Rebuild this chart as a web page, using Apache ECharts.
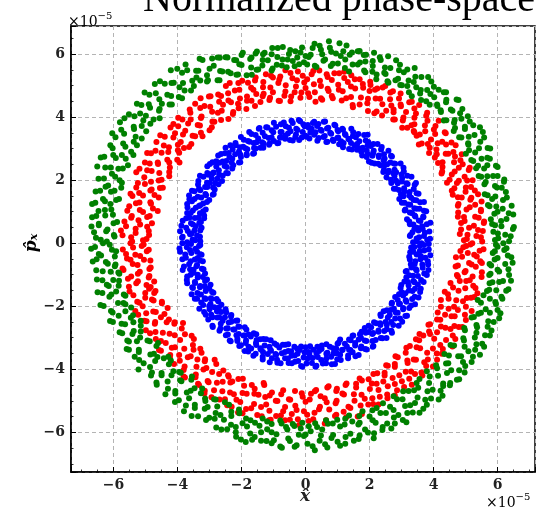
<!DOCTYPE html>
<html>
<head>
<meta charset="utf-8">
<title>Normalized phase-space</title>
<script src="https://cdn.jsdelivr.net/npm/echarts@6/dist/echarts.min.js"></script>
<style>
html, body { margin: 0; padding: 0; background: #fff; }
#main { width: 543px; height: 511px; }
</style>
</head>
<body>
<div id="main"></div>
<script>
// values, in units of 1e-5
var tickValues = [-6, -4, -2, 0, 2, 4, 6];
var tickLabels = ['\u22126', '\u22124', '\u22122', '0', '2', '4', '6'];
var xRange = [-7.33, 7.17];
var yRange = [-7.26, 6.89];

var blueRing = [
[3.62,0.00],[0.00,3.41],[-3.85,0.00],[0.00,-3.30],[3.48,0.06],[-0.07,3.77],[-3.29,-0.06],[0.06,-3.66],
[3.89,0.14],[-0.12,3.35],[-3.71,-0.13],[0.12,-3.52],[3.55,0.19],[-0.21,3.91],[-3.44,-0.18],[0.20,-3.80],
[3.26,0.23],[-0.25,3.59],[-3.92,-0.27],[0.24,-3.38],[3.73,0.33],[-0.30,3.45],[-3.57,-0.31],[0.34,-3.89],
[3.34,0.35],[-0.40,3.81],[-3.29,-0.35],[0.38,-3.61],[3.66,0.45],[-0.40,3.26],[-3.74,-0.46],[0.42,-3.42],
[3.48,0.49],[-0.52,3.66],[-3.37,-0.47],[0.54,-3.82],[3.79,0.60],[-0.55,3.48],[-3.59,-0.57],[0.51,-3.25],
[3.37,0.59],[-0.68,3.83],[-3.21,-0.57],[0.65,-3.66],[3.59,0.70],[-0.64,3.31],[-3.80,-0.74],[0.68,-3.48],
[3.24,0.69],[-0.75,3.53],[-3.41,-0.73],[0.82,-3.84],[3.68,0.85],[-0.77,3.35],[-3.61,-0.83],[0.76,-3.29],
[3.43,0.85],[-0.92,3.69],[-3.24,-0.81],[0.87,-3.50],[3.77,1.01],[-0.85,3.18],[-3.50,-0.94],[0.99,-3.68],
[3.33,0.95],[-1.01,3.52],[-3.70,-1.06],[0.96,-3.35],[3.56,1.09],[-0.99,3.24],[-3.14,-0.96],[1.08,-3.54],
[3.40,1.11],[-1.19,3.67],[-3.37,-1.09],[1.03,-3.16],[3.12,1.07],[-1.15,3.34],[-3.70,-1.27],[1.16,-3.38],
[3.58,1.30],[-1.14,3.12],[-3.45,-1.26],[1.33,-3.65],[3.21,1.23],[-1.34,3.50],[-3.14,-1.20],[1.23,-3.19],
[3.38,1.37],[-1.46,3.63],[-3.52,-1.42],[1.36,-3.38],[3.01,1.28],[-1.36,3.20],[-3.30,-1.40],[1.47,-3.46],
[3.53,1.57],[-1.48,3.32],[-2.97,-1.32],[1.36,-3.06],[3.24,1.51],[-1.41,3.03],[-3.38,-1.58],[1.66,-3.55],
[3.06,1.49],[-1.69,3.46],[-3.12,-1.52],[1.55,-3.17],[3.38,1.72],[-1.62,3.18],[-3.46,-1.76],[1.49,-2.93],
[3.09,1.64],[-1.61,3.02],[-2.92,-1.55],[1.74,-3.28],[3.45,1.91],[-1.80,3.24],[-3.15,-1.75],[1.86,-3.36],
[2.92,1.69],[-1.64,2.84],[-3.26,-1.88],[1.73,-3.00],[3.15,1.90],[-2.02,3.37],[-2.94,-1.77],[1.85,-3.09],
[2.76,1.73],[-1.88,3.01],[-3.32,-2.08],[1.75,-2.81],[3.01,1.96],[-1.84,2.83],[-2.97,-1.93],[2.12,-3.26],
[3.18,2.14],[-2.05,3.04],[-2.73,-1.84],[2.09,-3.10],[2.83,1.98],[-2.18,3.11],[-3.00,-2.10],[1.97,-2.82],
[3.00,2.18],[-2.04,2.81],[-3.12,-2.27],[2.09,-2.88],[2.67,2.01],[-2.35,3.11],[-2.71,-2.04],[1.97,-2.62],
[3.06,2.39],[-2.20,2.82],[-2.77,-2.16],[2.35,-3.01],[2.74,2.22],[-2.08,2.56],[-2.91,-2.35],[2.28,-2.81],
[2.78,2.33],[-2.40,2.86],[-2.50,-2.10],[2.53,-3.01],[2.57,2.24],[-2.38,2.73],[-2.70,-2.35],[2.21,-2.54],
[2.80,2.52],[-2.31,2.56],[-2.91,-2.62],[2.34,-2.60],[2.43,2.26],[-2.64,2.83],[-2.52,-2.35],[2.54,-2.73],
[2.65,2.56],[-2.29,2.37],[-2.65,-2.56],[2.68,-2.78],[2.47,2.47],[-2.59,2.59],[-2.33,-2.33],[2.50,-2.50],
[2.67,2.77],[-2.53,2.45],[-2.69,-2.78],[2.34,-2.26],[2.44,2.62],[-2.79,2.60],[-2.32,-2.49],[2.68,-2.50],
[2.27,2.52],[-2.48,2.23],[-2.43,-2.70],[2.91,-2.62],[2.45,2.82],[-2.79,2.43],[-2.13,-2.45],[2.63,-2.28],
[2.29,2.73],[-2.99,2.51],[-2.43,-2.90],[2.54,-2.13],[2.06,2.55],[-2.70,2.18],[-2.22,-2.74],[2.95,-2.39],
[2.38,3.05],[-2.87,2.24],[-2.07,-2.65],[2.82,-2.20],[2.09,2.77],[-2.61,1.97],[-2.34,-3.11],[2.76,-2.08],
[2.13,2.93],[-3.07,2.23],[-2.09,-2.88],[3.17,-2.30],[1.91,2.73],[-2.93,2.05],[-2.13,-3.04],[2.70,-1.89],
[2.12,3.15],[-2.83,1.91],[-1.85,-2.74],[3.05,-2.06],[1.91,2.94],[-3.30,2.14],[-1.90,-2.93],[2.95,-1.92],
[1.94,3.11],[-3.08,1.92],[-2.02,-3.24],[2.88,-1.80],[1.74,2.90],[-2.84,1.70],[-1.86,-3.09],[3.30,-1.98],
[1.88,3.26],[-3.07,1.78],[-1.71,-2.96],[3.13,-1.81],[1.67,3.01],[-3.36,1.86],[-1.90,-3.42],[2.92,-1.62],
[1.83,3.43],[-2.90,1.54],[-1.54,-2.89],[3.33,-1.77],[1.61,3.15],[-3.29,1.68],[-1.70,-3.34],[3.12,-1.59],
[1.45,2.97],[-3.11,1.52],[-1.55,-3.17],[3.53,-1.72],[1.57,3.36],[-3.55,1.66],[-1.42,-3.05],[3.23,-1.50],
[1.42,3.18],[-3.26,1.45],[-1.56,-3.51],[2.99,-1.33],[1.49,3.52],[-3.08,1.31],[-1.41,-3.33],[3.42,-1.45],
[1.34,3.31],[-3.47,1.40],[-1.23,-3.05],[3.60,-1.45],[1.17,3.04],[-3.63,1.39],[-1.33,-3.45],[3.20,-1.23],
[1.25,3.43],[-3.29,1.20],[-1.34,-3.69],[3.40,-1.24],[1.11,3.23],[-3.12,1.07],[-1.13,-3.29],[3.15,-1.08],
[1.17,3.60],[-3.43,1.12],[-1.10,-3.38],[3.61,-1.17],[1.02,3.35],[-3.69,1.13],[-0.97,-3.18],[3.36,-1.03],
[1.02,3.55],[-3.30,0.95],[-1.05,-3.65],[3.13,-0.90],[0.87,3.24],[-3.59,0.96],[-0.94,-3.52],[3.79,-1.01],
[0.93,3.73],[-3.17,0.79],[-0.82,-3.31],[3.47,-0.87],[0.80,3.47],[-3.46,0.80],[-0.88,-3.79],[3.31,-0.77],
[0.68,3.22],[-3.73,0.79],[-0.74,-3.49],[3.66,-0.78],[0.71,3.66],[-3.32,0.64],[-0.63,-3.22],[3.41,-0.66],
[0.60,3.40],[-3.58,0.63],[-0.64,-3.65],[3.83,-0.68],[0.61,3.86],[-3.43,0.54],[-0.54,-3.42],[3.26,-0.52],
[0.50,3.57],[-3.88,0.55],[-0.53,-3.80],[3.59,-0.51],[0.41,3.34],[-3.29,0.40],[-0.44,-3.57],[3.74,-0.46],
[0.40,3.78],[-3.68,0.39],[-0.35,-3.29],[3.47,-0.36],[0.31,3.52],[-3.56,0.31],[-0.33,-3.76],[3.27,-0.29],
[0.27,3.85],[-3.39,0.24],[-0.25,-3.51],[3.57,-0.25],[0.19,3.63],[-3.84,0.20],[-0.18,-3.39],[3.85,-0.20],
[0.12,3.32],[-3.53,0.12],[-0.14,-3.90],[3.40,-0.12],[0.07,3.75],[-3.29,0.06],[-0.06,-3.63],[3.70,-0.06],
[3.36,0.03],[-0.03,3.71],[-3.58,-0.03],[0.03,-3.82],[3.80,0.10],[-0.09,3.53],[-3.33,-0.09],[0.09,-3.45],
[3.47,0.15],[-0.17,3.87],[-3.94,-0.17],[0.14,-3.27],[3.70,0.23],[-0.20,3.27],[-3.61,-0.22],[0.22,-3.64],
[3.28,0.26],[-0.29,3.63],[-3.39,-0.27],[0.31,-3.92],[3.87,0.37],[-0.32,3.37],[-3.76,-0.36],[0.34,-3.50],
[3.53,0.40],[-0.44,3.88],[-3.25,-0.37],[0.37,-3.29],[3.40,0.45],[-0.47,3.55],[-3.85,-0.51],[0.49,-3.71],
[3.64,0.54],[-0.49,3.27],[-3.46,-0.52],[0.50,-3.36],[3.90,0.65],[-0.62,3.71],[-3.30,-0.55],[0.64,-3.81],
[3.26,0.60],[-0.63,3.41],[-3.64,-0.67],[0.65,-3.51],[3.54,0.72],[-0.77,3.77],[-3.39,-0.69],[0.65,-3.21],
[3.68,0.82],[-0.78,3.53],[-3.84,-0.85],[0.80,-3.60],[3.17,0.76],[-0.80,3.35],[-3.50,-0.84],[0.92,-3.83],
[3.41,0.88],[-0.99,3.82],[-3.19,-0.83],[0.86,-3.33],[3.70,1.03],[-0.88,3.17],[-3.59,-1.00],[0.97,-3.49],
[3.26,0.97],[-1.06,3.58],[-3.37,-1.00],[1.10,-3.71],[3.47,1.09],[-1.06,3.35],[-3.71,-1.17],[1.00,-3.19],
[3.10,1.04],[-1.23,3.68],[-3.21,-1.07],[1.14,-3.39],[3.70,1.31],[-1.12,3.17],[-3.46,-1.23],[1.08,-3.06],
[3.27,1.22],[-1.27,3.39],[-3.08,-1.15],[1.33,-3.56],[3.46,1.36],[-1.44,3.65],[-3.54,-1.40],[1.29,-3.28],
[3.09,1.28],[-1.31,3.16],[-3.29,-1.36],[1.40,-3.39],[3.30,1.44],[-1.32,3.03],[-3.15,-1.37],[1.56,-3.59],
[3.47,1.58],[-1.56,3.43],[-3.56,-1.62],[1.41,-3.08],[2.93,1.40],[-1.53,3.20],[-3.01,-1.44],[1.55,-3.25],
[3.25,1.62],[-1.76,3.53],[-3.27,-1.63],[1.47,-2.94],[2.98,1.55],[-1.56,3.00],[-3.39,-1.76],[1.73,-3.33],
[3.41,1.85],[-1.75,3.22],[-2.88,-1.57],[1.66,-3.06],[3.08,1.74],[-1.61,2.85],[-3.12,-1.77],[1.91,-3.37],
[3.19,1.88],[-1.93,3.28],[-2.96,-1.75],[1.70,-2.89],[2.82,1.73],[-1.82,2.98],[-3.20,-1.96],[1.90,-3.10],
[3.31,2.11],[-1.95,3.06],[-2.78,-1.77],[2.10,-3.29],[2.88,1.90],[-1.84,2.79],[-3.01,-1.99],[1.88,-2.84],
[3.02,2.07],[-2.19,3.18],[-3.17,-2.18],[1.85,-2.69],[2.68,1.91],[-2.08,2.91],[-2.85,-2.03],[2.19,-3.07],
[3.07,2.27],[-2.02,2.73],[-2.63,-1.95],[2.11,-2.85],[2.78,2.13],[-2.28,2.97],[-2.95,-2.26],[2.05,-2.67],
[2.83,2.25],[-2.04,2.57],[-3.04,-2.42],[2.40,-3.02],[2.53,2.09],[-2.50,3.03],[-2.64,-2.18],[2.28,-2.77],
[2.97,2.53],[-2.29,2.68],[-2.76,-2.36],[2.14,-2.51],[2.60,2.30],[-2.52,2.85],[-2.48,-2.19],[2.46,-2.79],
[2.76,2.53],[-2.26,2.47],[-2.90,-2.66],[2.33,-2.54],[2.45,2.33],[-2.48,2.61],[-2.59,-2.46],[2.70,-2.84],
[2.55,2.50],[-2.73,2.78],[-2.32,-2.28],[2.54,-2.59],[2.70,2.75],[-2.46,2.42],[-2.66,-2.71],[2.35,-2.31],
[2.34,2.47],[-2.69,2.55],[-2.40,-2.52],[2.74,-2.60],[2.47,2.69],[-2.43,2.22],[-2.48,-2.71],[2.57,-2.36],
[2.59,2.93],[-2.91,2.57],[-2.18,-2.46],[2.44,-2.16],[2.16,2.53],[-2.71,2.31],[-2.49,-2.92],[2.80,-2.39],
[2.29,2.78],[-2.59,2.14],[-2.26,-2.74],[3.02,-2.49],[2.36,2.97],[-3.07,2.44],[-2.10,-2.64],[2.66,-2.12],
[1.98,2.59],[-2.90,2.22],[-2.37,-3.09],[2.88,-2.21],[2.11,2.85],[-2.76,2.04],[-2.16,-2.92],[3.12,-2.31],
[2.25,3.15],[-3.04,2.17],[-1.90,-2.67],[2.69,-1.92],[1.94,2.83],[-2.72,1.87],[-2.13,-3.10],[3.05,-2.10],
[2.04,3.08],[-3.19,2.11],[-1.94,-2.93],[2.92,-1.93],[1.77,2.78],[-3.00,1.91],[-2.07,-3.26],[3.24,-2.06],
[1.96,3.21],[-2.89,1.77],[-1.78,-2.90],[2.80,-1.71],[1.79,3.03],[-3.35,1.97],[-1.87,-3.17],[3.15,-1.86],
[1.94,3.44],[-3.14,1.78],[-1.62,-2.86],[3.42,-1.94],[1.61,2.96],[-2.87,1.56],[-1.78,-3.29],[3.05,-1.66],
[1.68,3.23],[-3.33,1.73],[-1.79,-3.44],[3.00,-1.56],[1.54,3.10],[-3.13,1.56],[-1.53,-3.07],[3.41,-1.70],
[1.65,3.46],[-3.47,1.65],[-1.54,-3.23],[2.97,-1.42],[1.36,2.99],[-3.01,1.37],[-1.63,-3.57],[3.34,-1.52],
[1.48,3.40],[-3.37,1.47],[-1.32,-3.04],[3.58,-1.55],[1.36,3.29],[-3.64,1.51],[-1.40,-3.37],[3.22,-1.34],
[1.43,3.63],[-3.20,1.26],[-1.28,-3.25],[3.09,-1.22],[1.19,3.18],[-3.55,1.33],[-1.34,-3.60],[3.51,-1.31],
[1.23,3.46],[-3.33,1.18],[-1.09,-3.08],[3.37,-1.20],[1.05,3.14],[-3.70,1.24],[-1.18,-3.52],[3.69,-1.23],
[1.15,3.63],[-3.20,1.01],[-1.08,-3.41],[3.24,-1.02],[0.99,3.34],[-3.52,1.04],[-1.12,-3.78],[3.51,-1.04],
[1.00,3.59],[-3.17,0.88],[-0.90,-3.23],[3.16,-0.88],[0.85,3.28],[-3.70,0.96],[-0.92,-3.54],[3.71,-0.96],
[0.90,3.76],[-3.35,0.81],[-0.89,-3.70],[3.45,-0.83],[0.77,3.50],[-3.63,0.81],[-0.71,-3.22],[3.84,-0.85],
[0.65,3.21],[-3.27,0.67],[-0.78,-3.81],[3.29,-0.67],[0.67,3.64],[-3.84,0.71],[-0.64,-3.45],[3.65,-0.68],
[0.56,3.37],[-3.52,0.59],[-0.54,-3.21],[3.43,-0.57],[0.57,3.85],[-3.25,0.49],[-0.55,-3.66],[3.82,-0.57],
[0.47,3.60],[-3.73,0.49],[-0.45,-3.43],[3.24,-0.43],[0.37,3.25],[-3.47,0.40],[-0.43,-3.81],[3.60,-0.41],
[0.36,3.72],[-3.92,0.38],[-0.34,-3.56],[3.90,-0.38],[0.27,3.44],[-3.61,0.28],[-0.26,-3.35],[3.37,-0.27],
[0.23,3.81],[-3.30,0.20],[-0.23,-3.74],[3.71,-0.23],[0.15,3.51],[-3.86,0.17],[-0.14,-3.28],[3.30,-0.14],
[0.10,3.66],[-3.45,0.09],[-0.10,-3.92],[3.57,-0.09],[0.03,3.38],[-3.70,0.03],[-0.03,-3.47],[3.85,-0.03]
];

var redRing = [
[5.21,0.00],[0.00,4.92],[-5.47,0.00],[0.00,-5.03],[4.95,0.09],[-0.09,5.31],[-5.12,-0.09],[0.10,-5.64],
[5.48,0.19],[-0.16,4.61],[-5.71,-0.20],[0.17,-4.78],[5.06,0.27],[-0.27,5.17],[-4.96,-0.26],[0.28,-5.38],
[5.54,0.39],[-0.34,4.79],[-5.32,-0.37],[0.33,-4.66],[4.86,0.43],[-0.47,5.40],[-5.58,-0.49],[0.45,-5.19],
[5.26,0.55],[-0.47,4.50],[-5.05,-0.53],[0.60,-5.72],[5.58,0.69],[-0.62,5.01],[-5.40,-0.66],[0.60,-4.92],
[4.97,0.70],[-0.66,4.68],[-5.72,-0.80],[0.74,-5.28],[5.30,0.84],[-0.82,5.19],[-4.84,-0.77],[0.72,-4.54],
[4.76,0.84],[-0.80,4.51],[-5.18,-0.91],[0.96,-5.44],[5.48,1.06],[-1.02,5.26],[-5.45,-1.06],[0.97,-5.00],
[5.03,1.07],[-1.02,4.79],[-4.88,-1.04],[0.98,-4.62],[5.30,1.22],[-1.24,5.36],[-5.24,-1.21],[1.27,-5.52],
[4.76,1.19],[-1.13,4.54],[-5.52,-1.38],[1.20,-4.80],[5.15,1.38],[-1.33,4.95],[-4.97,-1.33],[1.40,-5.23],
[5.39,1.55],[-1.34,4.66],[-4.84,-1.39],[1.28,-4.45],[4.76,1.46],[-1.58,5.16],[-5.38,-1.65],[1.53,-5.00],
[5.00,1.63],[-1.54,4.73],[-4.69,-1.52],[1.76,-5.42],[5.17,1.78],[-1.70,4.93],[-5.01,-1.73],[1.58,-4.58],
[4.57,1.66],[-1.58,4.35],[-5.19,-1.89],[1.75,-4.81],[5.22,2.00],[-1.98,5.15],[-4.75,-1.82],[1.96,-5.12],
[4.73,1.91],[-1.83,4.52],[-5.32,-2.15],[1.76,-4.36],[4.97,2.11],[-2.07,4.87],[-4.49,-1.91],[2.09,-4.92],
[4.50,2.01],[-2.05,4.59],[-4.98,-2.22],[2.28,-5.12],[5.13,2.39],[-2.37,5.08],[-4.68,-2.18],[2.07,-4.45],
[4.66,2.27],[-2.09,4.28],[-5.04,-2.46],[2.28,-4.66],[4.91,2.50],[-2.42,4.76],[-4.41,-2.25],[2.12,-4.15],
[4.27,2.27],[-2.41,4.53],[-4.70,-2.50],[2.55,-4.80],[4.64,2.57],[-2.27,4.10],[-4.99,-2.76],[2.43,-4.39],
[4.88,2.82],[-2.73,4.72],[-4.34,-2.51],[2.79,-4.83],[4.28,2.57],[-2.70,4.49],[-4.69,-2.82],[2.47,-4.11],
[4.62,2.89],[-2.62,4.20],[-4.10,-2.56],[2.79,-4.47],[4.38,2.84],[-3.02,4.65],[-4.68,-3.04],[2.52,-3.87],
[4.04,2.72],[-2.64,3.91],[-4.25,-2.87],[3.08,-4.56],[4.56,3.19],[-2.92,4.17],[-3.87,-2.71],[2.93,-4.19],
[4.09,2.97],[-3.16,4.35],[-4.37,-3.17],[2.79,-3.83],[4.27,3.22],[-2.91,3.86],[-4.52,-3.41],[3.24,-4.30],
[3.88,3.03],[-3.45,4.42],[-3.92,-3.07],[2.81,-3.59],[4.35,3.52],[-3.25,4.02],[-4.08,-3.30],[3.30,-4.07],
[3.92,3.29],[-3.00,3.58],[-4.23,-3.55],[3.19,-3.80],[3.63,3.16],[-3.60,4.14],[-3.49,-3.04],[3.65,-4.20],
[4.01,3.61],[-3.37,3.75],[-3.95,-3.55],[3.13,-3.48],[4.16,3.88],[-3.27,3.50],[-4.11,-3.83],[3.45,-3.70],
[3.57,3.45],[-3.67,3.80],[-3.50,-3.38],[3.77,-3.90],[3.73,3.73],[-3.98,3.98],[-3.59,-3.59],[3.26,-3.26],
[3.40,3.52],[-3.53,3.41],[-3.78,-3.91],[3.82,-3.69],[3.77,4.04],[-3.98,3.71],[-3.25,-3.48],[3.58,-3.33],
[3.40,3.77],[-3.83,3.45],[-3.81,-4.23],[4.11,-3.70],[3.18,3.66],[-4.22,3.67],[-3.41,-3.92],[3.55,-3.08],
[3.45,4.11],[-3.64,3.05],[-3.15,-3.75],[3.98,-3.34],[3.55,4.38],[-4.13,3.35],[-3.44,-4.25],[3.56,-2.88],
[3.04,3.89],[-3.99,3.12],[-3.10,-3.96],[4.29,-3.36],[3.14,4.16],[-4.54,3.42],[-3.36,-4.46],[4.02,-3.03],
[3.24,4.47],[-3.95,2.87],[-2.79,-3.83],[3.86,-2.80],[2.74,3.92],[-4.43,3.10],[-3.06,-4.37],[4.39,-3.07],
[2.97,4.40],[-4.29,2.89],[-3.15,-4.68],[3.84,-2.59],[2.75,4.24],[-3.94,2.56],[-2.70,-4.15],[4.68,-3.04],
[2.97,4.75],[-4.69,2.93],[-2.77,-4.43],[4.23,-2.64],[2.52,4.20],[-4.26,2.56],[-2.94,-4.89],[4.53,-2.72],
[2.64,4.57],[-4.95,2.86],[-2.42,-4.19],[4.21,-2.43],[2.65,4.78],[-4.62,2.56],[-2.60,-4.70],[4.79,-2.66],
[2.22,4.18],[-4.26,2.26],[-2.35,-4.42],[4.13,-2.20],[2.33,4.58],[-5.02,2.56],[-2.52,-4.95],[4.56,-2.32],
[2.41,4.94],[-4.57,2.23],[-2.10,-4.31],[5.01,-2.44],[1.95,4.19],[-4.95,2.31],[-2.24,-4.79],[4.47,-2.08],
[2.17,4.87],[-4.50,2.01],[-2.31,-5.19],[4.76,-2.12],[1.95,4.58],[-5.29,2.25],[-1.92,-4.52],[4.23,-1.80],
[2.03,5.02],[-4.83,1.95],[-2.04,-5.04],[5.01,-2.02],[1.69,4.40],[-4.55,1.75],[-1.84,-4.78],[4.71,-1.81],
[1.80,4.93],[-5.24,1.91],[-1.97,-5.40],[4.45,-1.62],[1.48,4.31],[-4.85,1.67],[-1.59,-4.62],[5.04,-1.74],
[1.69,5.20],[-4.72,1.53],[-1.70,-5.24],[5.27,-1.71],[1.42,4.64],[-5.20,1.59],[-1.47,-4.81],[4.61,-1.41],
[1.42,4.97],[-5.47,1.57],[-1.29,-4.50],[4.99,-1.43],[1.43,5.33],[-4.85,1.30],[-1.39,-5.20],[5.31,-1.42],
[1.13,4.53],[-5.19,1.29],[-1.37,-5.49],[4.82,-1.20],[1.21,5.24],[-4.77,1.10],[-1.12,-4.83],[5.13,-1.18],
[1.04,4.87],[-5.51,1.17],[-1.13,-5.32],[4.73,-1.01],[1.05,5.39],[-5.08,0.99],[-1.09,-5.60],[5.50,-1.07],
[0.82,4.67],[-4.87,0.86],[-0.88,-5.01],[5.00,-0.88],[0.82,5.18],[-5.43,0.86],[-0.76,-4.79],[4.69,-0.74],
[0.69,4.90],[-5.22,0.73],[-0.77,-5.47],[5.32,-0.75],[0.66,5.36],[-5.66,0.69],[-0.64,-5.20],[5.11,-0.63],
[0.48,4.60],[-4.95,0.52],[-0.52,-4.95],[5.46,-0.57],[0.45,5.15],[-5.31,0.46],[-0.49,-5.60],[4.89,-0.43],
[0.31,4.49],[-5.77,0.40],[-0.33,-4.69],[5.27,-0.37],[0.26,5.04],[-4.89,0.26],[-0.28,-5.29],[4.84,-0.25],
[0.19,5.36],[-5.45,0.19],[-0.20,-5.77],[5.56,-0.19],[0.08,4.76],[-5.08,0.09],[-0.09,-4.87],[5.02,-0.09],
[5.52,0.05],[-0.04,5.10],[-5.06,-0.04],[0.05,-5.44],[5.04,0.13],[-0.13,4.78],[-5.39,-0.14],[0.13,-4.96],
[5.34,0.23],[-0.24,5.45],[-4.90,-0.21],[0.24,-5.59],[4.82,0.29],[-0.30,4.97],[-5.61,-0.34],[0.29,-4.70],
[5.39,0.42],[-0.41,5.23],[-5.17,-0.41],[0.42,-5.27],[5.11,0.49],[-0.45,4.65],[-5.47,-0.53],[0.47,-4.86],
[5.57,0.64],[-0.63,5.49],[-4.85,-0.55],[0.64,-5.62],[4.86,0.64],[-0.63,4.81],[-5.25,-0.69],[0.66,-5.05],
[5.41,0.81],[-0.79,5.29],[-5.69,-0.85],[0.68,-4.58],[4.95,0.83],[-0.85,5.08],[-4.88,-0.82],[0.92,-5.48],
[5.48,1.01],[-0.84,4.52],[-5.24,-0.97],[0.94,-5.08],[4.77,0.97],[-1.08,5.31],[-5.55,-1.13],[0.96,-4.69],
[5.13,1.14],[-1.10,4.94],[-4.90,-1.09],[1.19,-5.35],[5.50,1.32],[-1.11,4.61],[-5.29,-1.27],[1.15,-4.77],
[4.78,1.24],[-1.32,5.11],[-4.73,-1.22],[1.34,-5.19],[5.18,1.44],[-1.31,4.74],[-5.50,-1.53],[1.25,-4.50],
[4.88,1.45],[-1.56,5.26],[-4.89,-1.45],[1.63,-5.50],[5.29,1.67],[-1.41,4.48],[-5.01,-1.58],[1.51,-4.79],
[4.60,1.54],[-1.63,4.87],[-4.73,-1.58],[1.72,-5.15],[5.01,1.77],[-1.80,5.09],[-5.26,-1.86],[1.58,-4.46],
[4.65,1.74],[-1.69,4.52],[-4.80,-1.79],[1.85,-4.94],[5.05,1.99],[-1.83,4.65],[-5.09,-2.00],[1.69,-4.29],
[4.79,1.98],[-2.10,5.08],[-4.49,-1.86],[2.11,-5.10],[4.42,1.92],[-1.85,4.26],[-5.23,-2.27],[2.01,-4.63],
[5.10,2.32],[-2.21,4.84],[-4.76,-2.17],[1.97,-4.32],[4.57,2.18],[-2.11,4.42],[-4.31,-2.06],[2.32,-4.87],
[4.79,2.39],[-2.49,4.99],[-4.97,-2.48],[2.22,-4.46],[4.25,2.21],[-2.33,4.47],[-4.52,-2.35],[2.56,-4.92],
[4.84,2.63],[-2.26,4.16],[-4.71,-2.56],[2.24,-4.13],[4.28,2.42],[-2.64,4.67],[-4.27,-2.42],[2.57,-4.54],
[4.67,2.75],[-2.58,4.39],[-4.86,-2.86],[2.47,-4.20],[4.14,2.54],[-2.41,3.94],[-4.09,-2.51],[2.86,-4.67],
[4.46,2.84],[-2.97,4.66],[-4.46,-2.84],[2.72,-4.28],[4.69,3.11],[-2.74,4.14],[-3.83,-2.53],[2.57,-3.89],
[4.10,2.82],[-2.98,4.33],[-4.52,-3.10],[3.01,-4.38],[4.39,3.13],[-3.28,4.60],[-4.09,-2.92],[2.79,-3.92],
[3.86,2.86],[-2.85,3.85],[-4.58,-3.39],[3.32,-4.49],[4.13,3.17],[-3.29,4.29],[-3.77,-2.89],[3.13,-4.08],
[4.38,3.49],[-2.93,3.68],[-4.18,-3.32],[2.88,-3.62],[3.82,3.15],[-3.27,3.97],[-3.56,-2.94],[3.42,-4.15],
[4.05,3.46],[-3.62,4.24],[-4.24,-3.62],[3.18,-3.72],[3.54,3.13],[-3.30,3.73],[-3.79,-3.35],[3.62,-4.10],
[4.06,3.72],[-3.59,3.92],[-3.52,-3.23],[3.38,-3.69],[3.74,3.55],[-3.22,3.39],[-3.93,-3.73],[3.15,-3.32],
[3.47,3.41],[-3.85,3.92],[-3.68,-3.62],[3.71,-3.78],[3.81,3.88],[-3.45,3.39],[-3.29,-3.35],[3.98,-3.91],
[3.38,3.56],[-3.76,3.57],[-3.81,-4.02],[3.47,-3.30],[3.80,4.14],[-4.13,3.78],[-3.38,-3.69],[3.80,-3.48],
[3.31,3.74],[-3.57,3.15],[-3.77,-4.26],[3.45,-3.05],[3.40,3.98],[-4.08,3.49],[-3.14,-3.68],[4.10,-3.50],
[3.02,3.66],[-3.90,3.21],[-3.43,-4.17],[4.26,-3.51],[3.40,4.27],[-3.80,3.02],[-3.19,-4.01],[3.68,-2.93],
[3.06,3.99],[-4.40,3.38],[-2.84,-3.70],[4.21,-3.23],[3.32,4.49],[-3.99,2.95],[-3.33,-4.50],[3.89,-2.88],
[2.79,3.92],[-4.27,3.04],[-2.92,-4.09],[4.59,-3.28],[2.98,4.34],[-4.66,3.21],[-3.03,-4.41],[4.11,-2.83],
[2.75,4.15],[-4.01,2.65],[-3.16,-4.77],[3.89,-2.57],[2.92,4.59],[-4.50,2.87],[-2.57,-4.04],[4.60,-2.93],
[2.68,4.37],[-4.32,2.65],[-2.86,-4.67],[4.37,-2.68],[2.39,4.05],[-4.83,2.85],[-2.59,-4.40],[4.11,-2.42],
[2.73,4.82],[-4.24,2.40],[-2.40,-4.24],[4.65,-2.63],[2.40,4.41],[-4.61,2.51],[-2.69,-4.96],[4.90,-2.66],
[2.15,4.12],[-4.87,2.53],[-2.29,-4.39],[4.36,-2.27],[2.49,4.99],[-4.26,2.12],[-2.36,-4.74],[4.66,-2.32],
[2.19,4.59],[-4.81,2.29],[-2.45,-5.14],[4.23,-2.02],[2.24,4.91],[-5.19,2.36],[-1.96,-4.30],[4.98,-2.27],
[1.93,4.44],[-4.59,1.99],[-2.16,-4.97],[4.64,-2.02],[2.00,4.83],[-5.04,2.09],[-1.97,-4.75],[5.19,-2.15],
[2.02,5.12],[-4.46,1.76],[-2.11,-5.37],[4.47,-1.76],[1.73,4.62],[-5.02,1.88],[-1.68,-4.50],[4.92,-1.84],
[1.79,5.05],[-4.81,1.70],[-1.86,-5.26],[4.35,-1.54],[1.47,4.38],[-5.29,1.77],[-1.60,-4.78],[5.17,-1.73],
[1.55,4.91],[-4.59,1.45],[-1.61,-5.10],[4.78,-1.51],[1.54,5.20],[-5.08,1.51],[-1.31,-4.44],[5.37,-1.59],
[1.27,4.60],[-5.41,1.50],[-1.51,-5.45],[4.53,-1.26],[1.32,5.11],[-4.83,1.25],[-1.26,-4.88],[5.24,-1.35],
[1.16,4.82],[-5.30,1.27],[-1.23,-5.12],[5.02,-1.20],[1.21,5.44],[-4.62,1.02],[-1.05,-4.74],[4.76,-1.06],
[1.02,5.03],[-5.18,1.05],[-1.14,-5.62],[5.22,-1.06],[0.85,4.60],[-5.57,1.03],[-0.93,-5.00],[4.97,-0.92],
[0.90,5.39],[-4.95,0.83],[-0.92,-5.48],[5.51,-0.92],[0.72,4.83],[-5.45,0.81],[-0.70,-4.67],[4.76,-0.71],
[0.69,5.27],[-4.80,0.63],[-0.70,-5.33],[5.19,-0.68],[0.52,4.55],[-5.17,0.59],[-0.64,-5.62],[5.51,-0.63],
[0.48,4.99],[-5.61,0.54],[-0.48,-4.97],[4.70,-0.45],[0.43,5.48],[-4.90,0.39],[-0.43,-5.42],[5.35,-0.42],
[0.29,4.79],[-5.31,0.32],[-0.32,-5.16],[5.07,-0.31],[0.24,5.46],[-5.72,0.25],[-0.24,-5.59],[5.44,-0.24],
[0.12,4.64],[-4.97,0.13],[-0.12,-4.76],[4.93,-0.13],[0.05,5.20],[-5.42,0.05],[-0.05,-5.33],[5.15,-0.04]
];

var greenRing = [
[6.18,0.00],[0.00,5.94],[-6.33,0.00],[0.00,-6.07],[5.92,0.10],[-0.11,6.21],[-6.58,-0.12],[0.10,-5.81],
[6.41,0.22],[-0.20,5.68],[-6.05,-0.21],[0.22,-6.44],[6.01,0.31],[-0.32,6.09],[-6.46,-0.34],[0.30,-5.71],
[6.48,0.45],[-0.40,5.78],[-5.96,-0.42],[0.44,-6.27],[6.12,0.54],[-0.52,6.00],[-6.65,-0.58],[0.52,-5.91],
[5.83,0.61],[-0.59,5.58],[-6.18,-0.65],[0.68,-6.48],[6.28,0.77],[-0.72,5.83],[-5.96,-0.73],[0.70,-5.73],
[6.49,0.91],[-0.87,6.19],[-6.34,-0.89],[0.86,-6.09],[5.90,0.93],[-0.90,5.66],[-5.85,-0.93],[1.00,-6.30],
[6.16,1.09],[-1.06,5.99],[-6.52,-1.15],[0.99,-5.60],[5.96,1.16],[-1.06,5.48],[-6.01,-1.17],[1.24,-6.36],
[5.70,1.21],[-1.28,6.04],[-6.21,-1.32],[1.22,-5.75],[6.29,1.45],[-1.34,5.81],[-5.84,-1.35],[1.40,-6.05],
[5.93,1.48],[-1.52,6.08],[-6.35,-1.58],[1.36,-5.47],[5.69,1.52],[-1.48,5.51],[-6.07,-1.63],[1.66,-6.21],
[6.13,1.76],[-1.69,5.89],[-5.68,-1.63],[1.65,-5.75],[5.92,1.81],[-1.70,5.57],[-6.41,-1.96],[1.68,-5.48],
[6.21,2.02],[-1.96,6.04],[-5.86,-1.90],[1.95,-6.01],[5.63,1.94],[-1.84,5.33],[-5.63,-1.94],[2.13,-6.19],
[5.86,2.13],[-2.07,5.68],[-6.03,-2.20],[2.00,-5.50],[5.49,2.11],[-2.23,5.81],[-5.63,-2.16],[2.19,-5.70],
[6.00,2.42],[-2.16,5.34],[-6.11,-2.47],[2.40,-5.93],[5.58,2.37],[-2.50,5.90],[-5.39,-2.29],[2.22,-5.23],
[5.33,2.38],[-2.42,5.44],[-5.75,-2.56],[2.55,-5.72],[5.76,2.68],[-2.75,5.89],[-5.38,-2.51],[2.51,-5.39],
[5.50,2.68],[-2.67,5.46],[-5.81,-2.83],[2.79,-5.72],[5.18,2.64],[-2.87,5.63],[-5.15,-2.62],[2.64,-5.19],
[5.69,3.02],[-2.75,5.17],[-5.41,-2.88],[2.90,-5.45],[5.42,3.01],[-3.22,5.81],[-5.57,-3.09],[3.15,-5.68],
[5.11,2.95],[-3.08,5.33],[-5.17,-2.99],[2.86,-4.95],[5.58,3.35],[-3.08,5.13],[-5.59,-3.36],[3.11,-5.17],
[5.08,3.17],[-3.42,5.47],[-4.94,-3.09],[3.35,-5.37],[5.28,3.43],[-3.41,5.26],[-5.21,-3.38],[3.05,-4.70],
[5.45,3.68],[-3.70,5.49],[-5.34,-3.60],[3.42,-5.07],[4.80,3.36],[-3.49,4.99],[-4.66,-3.26],[3.68,-5.25],
[4.98,3.62],[-4.01,5.53],[-4.85,-3.53],[3.39,-4.67],[5.13,3.86],[-3.83,5.08],[-5.06,-3.81],[3.74,-4.97],
[4.67,3.65],[-3.78,4.84],[-4.63,-3.61],[3.47,-4.44],[4.87,3.95],[-4.12,5.09],[-4.86,-3.93],[3.81,-4.70],
[4.66,3.91],[-3.86,4.60],[-4.29,-3.60],[4.16,-4.96],[4.90,4.26],[-4.40,5.06],[-4.83,-4.20],[3.86,-4.44],
[4.32,3.89],[-4.20,4.67],[-4.27,-3.84],[4.22,-4.68],[4.54,4.24],[-4.71,5.05],[-4.50,-4.19],[3.79,-4.06],
[4.72,4.56],[-4.25,4.40],[-4.65,-4.49],[4.30,-4.45],[4.22,4.22],[-4.57,4.57],[-4.19,-4.19],[4.51,-4.51],
[4.40,4.55],[-4.88,4.71],[-3.95,-4.09],[4.11,-3.97],[4.11,4.40],[-4.56,4.26],[-4.30,-4.62],[4.42,-4.12],
[4.32,4.79],[-4.90,4.41],[-3.92,-4.35],[4.80,-4.32],[4.02,4.63],[-4.56,3.96],[-4.07,-4.69],[4.39,-3.82],
[3.77,4.50],[-5.27,4.42],[-3.55,-4.23],[4.80,-4.03],[4.01,4.96],[-4.99,4.04],[-4.08,-5.04],[4.34,-3.52],
[3.80,4.86],[-4.85,3.79],[-3.71,-4.74],[4.99,-3.90],[3.58,4.75],[-5.35,4.03],[-3.47,-4.60],[4.77,-3.59],
[3.83,5.27],[-5.12,3.72],[-3.74,-5.15],[5.19,-3.77],[3.46,4.95],[-5.66,3.96],[-3.23,-4.61],[4.64,-3.25],
[3.23,4.79],[-5.36,3.62],[-3.46,-5.13],[5.09,-3.43],[3.43,5.28],[-5.12,3.32],[-3.56,-5.48],[5.45,-3.54],
[3.22,5.16],[-5.76,3.60],[-3.13,-5.01],[4.95,-3.09],[3.01,5.01],[-5.37,3.22],[-3.15,-5.25],[5.34,-3.21],
[3.18,5.51],[-6.04,3.49],[-2.86,-4.95],[5.52,-3.19],[2.89,5.22],[-5.70,3.16],[-3.11,-5.61],[4.98,-2.76],
[2.92,5.49],[-5.45,2.90],[-2.76,-5.18],[5.34,-2.84],[2.59,5.09],[-6.10,3.11],[-2.84,-5.57],[5.76,-2.93],
[2.83,5.80],[-5.74,2.80],[-2.66,-5.45],[5.34,-2.60],[2.50,5.37],[-6.01,2.80],[-2.39,-5.13],[5.69,-2.65],
[2.48,5.57],[-5.55,2.47],[-2.63,-5.91],[5.26,-2.34],[2.21,5.20],[-6.40,2.72],[-2.32,-5.48],[5.88,-2.50],
[2.35,5.81],[-5.85,2.36],[-2.33,-5.76],[5.48,-2.21],[2.09,5.44],[-6.26,2.40],[-2.07,-5.40],[5.76,-2.21],
[2.10,5.78],[-6.05,2.20],[-2.18,-6.00],[6.09,-2.22],[1.87,5.42],[-5.81,2.00],[-1.97,-5.71],[5.48,-1.89],
[1.87,5.76],[-6.30,2.05],[-2.02,-6.23],[5.95,-1.93],[1.82,5.97],[-5.76,1.76],[-1.72,-5.62],[5.76,-1.76],
[1.63,5.67],[-6.25,1.79],[-1.73,-6.04],[6.15,-1.76],[1.63,6.09],[-6.08,1.63],[-1.67,-6.24],[5.67,-1.52],
[1.36,5.45],[-6.56,1.64],[-1.44,-5.79],[5.96,-1.49],[1.38,5.98],[-5.92,1.37],[-1.39,-6.00],[6.34,-1.46],
[1.24,5.83],[-6.27,1.33],[-1.20,-5.66],[5.84,-1.24],[1.18,6.09],[-6.57,1.28],[-1.22,-6.28],[6.17,-1.20],
[1.01,5.70],[-6.07,1.07],[-1.06,-6.00],[5.74,-1.01],[0.95,6.02],[-6.47,1.02],[-0.99,-6.25],[6.36,-1.01],
[0.79,5.62],[-6.26,0.88],[-0.79,-5.63],[6.00,-0.84],[0.76,6.20],[-6.67,0.82],[-0.79,-6.45],[5.80,-0.71],
[0.61,5.83],[-6.00,0.63],[-0.61,-5.83],[6.24,-0.66],[0.52,5.99],[-6.46,0.57],[-0.54,-6.20],[5.91,-0.52],
[0.44,6.26],[-6.19,0.43],[-0.40,-5.74],[6.43,-0.45],[0.29,5.63],[-6.61,0.35],[-0.34,-6.46],[5.85,-0.31],
[0.22,6.19],[-5.97,0.21],[-0.21,-6.08],[6.21,-0.22],[0.10,5.91],[-6.40,0.11],[-0.10,-5.70],[6.00,-0.11],
[6.36,0.06],[-0.05,5.74],[-6.12,-0.05],[0.06,-6.36],[6.02,0.16],[-0.16,6.05],[-6.70,-0.18],[0.16,-5.97],
[6.24,0.27],[-0.26,5.89],[-5.92,-0.26],[0.29,-6.57],[5.87,0.36],[-0.34,5.61],[-6.39,-0.39],[0.36,-5.83],
[6.51,0.51],[-0.48,6.13],[-6.53,-0.51],[0.48,-6.10],[5.92,0.57],[-0.56,5.83],[-6.24,-0.60],[0.61,-6.38],
[6.11,0.70],[-0.71,6.22],[-5.94,-0.68],[0.64,-5.62],[5.79,0.76],[-0.74,5.64],[-6.54,-0.86],[0.81,-6.18],
[6.35,0.95],[-0.88,5.91],[-6.09,-0.91],[0.85,-5.72],[6.00,1.00],[-1.04,6.19],[-5.82,-0.97],[1.08,-6.43],
[6.44,1.19],[-1.03,5.54],[-6.35,-1.18],[1.08,-5.82],[5.75,1.17],[-1.18,5.80],[-5.83,-1.19],[1.25,-6.15],
[6.17,1.37],[-1.33,5.99],[-6.15,-1.36],[1.24,-5.57],[5.83,1.40],[-1.35,5.64],[-6.50,-1.56],[1.51,-6.27],
[6.26,1.62],[-1.56,6.02],[-5.92,-1.53],[1.46,-5.66],[5.60,1.55],[-1.53,5.50],[-6.13,-1.70],[1.69,-6.10],
[5.98,1.77],[-1.73,5.84],[-5.63,-1.67],[1.69,-5.70],[6.20,1.95],[-1.68,5.34],[-6.31,-1.99],[1.86,-5.91],
[5.59,1.87],[-2.00,5.97],[-5.69,-1.90],[1.78,-5.33],[6.00,2.13],[-2.00,5.65],[-6.08,-2.15],[2.14,-6.03],
[5.68,2.12],[-2.17,5.80],[-5.45,-2.04],[2.10,-5.62],[5.41,2.13],[-2.11,5.35],[-5.84,-2.30],[2.09,-5.30],
[5.95,2.46],[-2.44,5.89],[-6.02,-2.50],[2.41,-5.83],[5.68,2.47],[-2.34,5.39],[-5.46,-2.37],[2.34,-5.39],
[5.39,2.46],[-2.68,5.88],[-5.64,-2.57],[2.68,-5.88],[5.68,2.71],[-2.60,5.45],[-5.15,-2.46],[2.42,-5.08],
[5.24,2.61],[-2.92,5.86],[-5.73,-2.86],[2.76,-5.53],[5.77,3.00],[-2.69,5.17],[-5.37,-2.79],[2.75,-5.29],
[5.30,2.88],[-3.00,5.53],[-5.15,-2.80],[3.04,-5.61],[5.01,2.84],[-3.31,5.85],[-5.52,-3.12],[2.75,-4.86],
[5.46,3.22],[-3.05,5.17],[-5.27,-3.11],[3.18,-5.39],[5.09,3.12],[-3.35,5.47],[-5.52,-3.38],[3.03,-4.95],
[5.54,3.53],[-3.29,5.16],[-4.87,-3.11],[3.27,-5.14],[5.10,3.38],[-3.75,5.67],[-5.21,-3.45],[3.56,-5.38],
[4.87,3.35],[-3.54,5.15],[-4.61,-3.17],[3.22,-4.69],[5.24,3.74],[-3.86,5.41],[-5.20,-3.71],[3.50,-4.90],
[4.98,3.69],[-3.58,4.84],[-4.74,-3.51],[3.79,-5.13],[4.63,3.56],[-4.21,5.49],[-5.22,-4.01],[3.52,-4.59],
[5.07,4.03],[-3.94,4.95],[-4.70,-3.74],[3.92,-4.93],[4.64,3.82],[-4.19,5.08],[-4.43,-3.65],[3.56,-4.31],
[4.83,4.12],[-3.96,4.64],[-4.80,-4.10],[3.97,-4.65],[4.40,3.90],[-4.55,5.14],[-4.21,-3.72],[4.28,-4.84],
[4.59,4.20],[-4.32,4.71],[-4.50,-4.12],[3.88,-4.23],[4.78,4.54],[-4.18,4.40],[-4.66,-4.42],[4.30,-4.53],
[4.23,4.16],[-4.68,4.76],[-4.13,-4.06],[4.14,-4.21],[4.39,4.47],[-4.49,4.42],[-4.31,-4.39],[4.52,-4.44],
[4.12,4.35],[-5.03,4.78],[-3.90,-4.11],[4.08,-3.87],[4.39,4.79],[-4.58,4.20],[-4.38,-4.79],[4.73,-4.33],
[3.88,4.39],[-4.86,4.30],[-3.88,-4.38],[4.55,-4.03],[4.16,4.87],[-5.13,4.38],[-4.07,-4.77],[4.46,-3.81],
[3.90,4.73],[-4.75,3.92],[-3.57,-4.33],[4.97,-4.10],[3.61,4.54],[-5.17,4.11],[-3.96,-4.98],[4.48,-3.56],
[3.93,5.13],[-5.07,3.89],[-3.59,-4.68],[4.92,-3.77],[3.60,4.86],[-5.52,4.09],[-3.64,-4.92],[4.86,-3.59],
[3.32,4.66],[-4.98,3.55],[-3.80,-5.33],[4.53,-3.23],[3.62,5.27],[-5.37,3.69],[-3.27,-4.76],[5.23,-3.60],
[3.38,5.11],[-5.80,3.84],[-3.46,-5.23],[4.97,-3.29],[3.18,4.99],[-5.31,3.38],[-3.14,-4.93],[5.30,-3.38],
[3.41,5.56],[-5.67,3.47],[-3.36,-5.49],[4.93,-3.02],[2.96,5.02],[-5.27,3.11],[-3.06,-5.20],[5.58,-3.29],
[3.07,5.42],[-5.94,3.36],[-2.81,-4.96],[5.29,-2.99],[2.81,5.17],[-5.63,3.06],[-3.01,-5.54],[4.96,-2.69],
[2.95,5.66],[-5.38,2.80],[-2.81,-5.39],[5.61,-2.92],[2.56,5.14],[-6.03,3.01],[-2.52,-5.05],[5.36,-2.67],
[2.65,5.56],[-5.62,2.68],[-2.79,-5.85],[5.81,-2.77],[2.46,5.41],[-5.93,2.70],[-2.55,-5.60],[5.19,-2.36],
[2.58,5.93],[-6.29,2.74],[-2.32,-5.35],[5.71,-2.48],[2.22,5.35],[-5.71,2.37],[-2.45,-5.90],[5.40,-2.24],
[2.32,5.90],[-6.09,2.40],[-2.08,-5.28],[6.05,-2.38],[2.10,5.62],[-6.51,2.43],[-2.18,-5.83],[5.63,-2.10],
[2.14,6.04],[-5.95,2.11],[-2.17,-6.14],[6.00,-2.12],[1.83,5.48],[-5.74,1.92],[-1.86,-5.56],[5.38,-1.80],
[1.89,5.98],[-6.47,2.04],[-1.83,-5.82],[5.93,-1.87],[1.70,5.73],[-6.17,1.83],[-1.87,-6.31],[5.56,-1.65],
[1.69,6.10],[-5.97,1.66],[-1.58,-5.70],[6.12,-1.70],[1.47,5.67],[-6.42,1.66],[-1.59,-6.15],[5.74,-1.48],
[1.45,6.05],[-5.83,1.40],[-1.34,-5.56],[6.27,-1.51],[1.23,5.56],[-6.33,1.40],[-1.39,-6.27],[5.75,-1.27],
[1.28,6.27],[-6.10,1.24],[-1.20,-5.90],[6.05,-1.23],[1.10,5.94],[-6.67,1.24],[-1.06,-5.74],[6.42,-1.19],
[1.06,6.34],[-6.27,1.05],[-1.06,-6.35],[5.78,-0.97],[0.85,5.69],[-6.02,0.90],[-0.91,-6.06],[6.05,-0.90],
[0.80,6.07],[-6.54,0.86],[-0.75,-5.72],[6.34,-0.83],[0.73,6.41],[-5.89,0.67],[-0.74,-6.49],[5.75,-0.66],
[0.56,5.79],[-6.46,0.62],[-0.57,-5.91],[6.47,-0.62],[0.48,6.14],[-6.69,0.53],[-0.49,-6.28],[6.00,-0.47],
[0.34,5.59],[-6.23,0.38],[-0.35,-5.80],[6.32,-0.39],[0.28,6.33],[-5.99,0.26],[-0.28,-6.41],[5.91,-0.26],
[0.16,5.98],[-6.55,0.17],[-0.15,-5.88],[6.28,-0.16],[0.05,5.67],[-6.21,0.05],[-0.05,-6.12],[5.95,-0.05]
];

function tickFormatter(v) {
  for (var i = 0; i < tickValues.length; i++) {
    if (Math.abs(v - tickValues[i]) < 1e-6) return tickLabels[i];
  }
  return '';
}

function makeAxis(range) {
  return {
    type: 'value',
    min: range[0],
    max: range[1],
    splitNumber: 7,
    axisLine: { show: true, onZero: false, lineStyle: { color: '#000', width: 1.5 } },
    axisTick: { show: true, inside: true, length: 5, lineStyle: { color: '#000', width: 1 } },
    minorTick: { show: true, splitNumber: 4, length: 2.5, lineStyle: { color: '#000', width: 0.8 } },
    splitLine: { show: true, lineStyle: { color: '#b4b4b4', width: 1, type: [4, 3] } },
    axisLabel: {
      formatter: tickFormatter,
      color: '#222',
      fontFamily: 'DejaVu Serif',
      fontWeight: 'bold',
      fontSize: 14,
      margin: 6,
      showMinLabel: false,
      showMaxLabel: false
    }
  };
}

var chart = echarts.init(document.getElementById('main'));

var sci = {
  a: { fontFamily: 'DejaVu Serif', fontSize: 14, color: '#222', verticalAlign: 'bottom', lineHeight: 18 },
  b: { fontFamily: 'DejaVu Serif', fontSize: 10, color: '#222', verticalAlign: 'top', lineHeight: 18 }
};

var option = {
  animation: false,
  backgroundColor: '#fff',
  grid: { left: 71, right: 8, top: 26, bottom: 39, show: true, borderColor: '#000', borderWidth: 1.5 },
  xAxis: makeAxis(xRange),
  yAxis: makeAxis(yRange),
  graphic: [
    { type: 'text', x: 143, y: 0,
      style: { text: 'Normalized phase-space', font: '40px "Liberation Serif"', fill: '#000', verticalAlign: 'middle' } },
    { type: 'text', x: 68, y: 20,
      style: { text: '{a|\u00d710}{b|\u22125}', rich: sci, verticalAlign: 'middle' } },
    { type: 'text', x: 486, y: 501,
      style: { text: '{a|\u00d710}{b|\u22125}', rich: sci, verticalAlign: 'middle' } },
    { type: 'text', x: 305, y: 497,
      style: { text: 'x\u0302', font: 'italic bold 17px "DejaVu Serif"', fill: '#222', align: 'center', verticalAlign: 'middle' } },
    { type: 'text', x: 30, y: 243, rotation: Math.PI / 2,
      style: {
        text: '{p|p\u0302}{s|x}', align: 'center', verticalAlign: 'middle',
        rich: {
          p: { font: 'italic bold 17px "DejaVu Serif"', color: '#222', verticalAlign: 'bottom', lineHeight: 20 },
          s: { font: 'italic bold 11px "DejaVu Serif"', color: '#222', verticalAlign: 'bottom', lineHeight: 14 }
        }
      } }
  ],
  series: [
    { type: 'scatter', name: 'blue', data: blueRing, symbolSize: 6, itemStyle: { color: '#0000ff', opacity: 1 } },
    { type: 'scatter', name: 'red', data: redRing, symbolSize: 6, itemStyle: { color: '#ff0000', opacity: 1 } },
    { type: 'scatter', name: 'green', data: greenRing, symbolSize: 6, itemStyle: { color: '#008000', opacity: 1 } }
  ]
};

chart.setOption(option);
</script>
</body>
</html>
